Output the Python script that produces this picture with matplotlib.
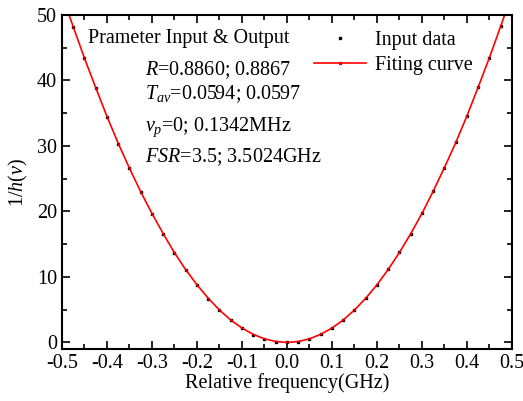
import matplotlib
matplotlib.use("Agg")
import matplotlib.pyplot as plt
from matplotlib.ticker import MultipleLocator
from matplotlib.lines import Line2D

# Fuente tipo Times y texto matemático en cursiva
plt.rcParams['font.family'] = 'Liberation Serif'
plt.rcParams['mathtext.fontset'] = 'custom'
plt.rcParams['mathtext.rm'] = 'Liberation Serif'
plt.rcParams['mathtext.it'] = 'Liberation Serif:italic'
plt.rcParams['axes.unicode_minus'] = False

# Datos
freq = [-0.5, -0.475, -0.45, -0.425, -0.4, -0.375, -0.35, -0.325, -0.3, -0.275,
        -0.25, -0.225, -0.2, -0.175, -0.15, -0.125, -0.1, -0.075, -0.05, -0.025,
        0.0, 0.025, 0.05, 0.075, 0.1, 0.125, 0.15, 0.175, 0.2, 0.225,
        0.25, 0.275, 0.3, 0.325, 0.35, 0.375, 0.4, 0.425, 0.45, 0.475, 0.5]
inv_h = [53.1, 48.2, 43.4, 38.9, 34.4, 30.3, 26.6, 23.0, 19.6, 16.5,
         13.7, 11.1, 8.8, 6.7, 4.9, 3.4, 2.2, 1.2, 0.55, 0.14,
         0.0, 0.14, 0.55, 1.24, 2.2, 3.45, 4.95, 6.75, 8.8, 11.15,
         13.75, 16.6, 19.7, 23.1, 26.7, 30.6, 34.6, 39.0, 43.5, 48.3, 53.2]
fit = [53.1, 48.2, 43.4, 38.9, 34.5, 30.4, 26.6, 23.0, 19.7, 16.6,
       13.7, 11.1, 8.8, 6.75, 4.95, 3.42, 2.2, 1.23, 0.55, 0.14,
       0.0, 0.14, 0.55, 1.24, 2.2, 3.43, 4.95, 6.75, 8.8, 11.15,
       13.75, 16.6, 19.7, 23.1, 26.7, 30.5, 34.6, 39.0, 43.5, 48.3, 53.2]

fs = 14.5

fig = plt.figure(figsize=(5.23, 4.01), dpi=100)
ax = fig.add_axes([0.1185, 0.1297, 0.8604, 0.8329])

ax.plot(freq, inv_h, ls='none', marker='s', ms=1.6, color='black', zorder=1)
ax.plot(freq, fit, color='red', lw=1.2, zorder=2)

ax.set_xlim(-0.5, 0.5)
ax.set_ylim(-1, 50)
ax.xaxis.set_minor_locator(MultipleLocator(0.05))
ax.yaxis.set_major_locator(MultipleLocator(10))
ax.yaxis.set_minor_locator(MultipleLocator(5))
ax.set_xticks([-0.5, -0.4, -0.3, -0.2, -0.1, 0.0, 0.1, 0.2, 0.3, 0.4, 0.5])
ax.set_xticklabels(['-0.5', '-0.4', '-0.3', '-0.2', '-0.1', '0.0',
                    '0.1', '0.2', '0.3', '0.4', '0.5'])
ax.tick_params(which='both', direction='in', top=True, right=True,
               labelsize=fs, width=1.2)
ax.tick_params(which='major', length=6)
ax.tick_params(which='minor', length=3.5)
for s in ax.spines.values():
    s.set_linewidth(1.5)

ax.set_xlabel('Relative frequency(GHz)', fontsize=fs, labelpad=0)
ax.set_ylabel(r'1/$h$($\nu$)', fontsize=fs, labelpad=5)

# Texto con los parámetros
ax.text(0.058, 0.931, 'Prameter Input & Output', transform=ax.transAxes,
        fontsize=fs, va='center')
ax.text(0.185, 0.835, r'$R$=0.8860; 0.8867', transform=ax.transAxes,
        fontsize=fs, va='center')
ax.text(0.185, 0.764, r'$T_{av}$=0.0594; 0.0597', transform=ax.transAxes,
        fontsize=fs, va='center')
ax.text(0.185, 0.664, r'$\nu_p$=0; 0.1342MHz', transform=ax.transAxes,
        fontsize=fs, va='center')
ax.text(0.185, 0.574, r'$FSR$=3.5; 3.5024GHz', transform=ax.transAxes,
        fontsize=fs, va='center')

# Leyenda
h_data = Line2D([], [], ls='none', marker='s', ms=2, color='black')
h_fit = Line2D([], [], color='red', lw=1.2, marker='s', ms=2)
ax.legend([h_data, h_fit], ['Input data', 'Fiting curve'], loc='upper left',
          bbox_to_anchor=(0.529, 0.995), frameon=False, fontsize=fs,
          handlelength=2.6, handletextpad=0.4, labelspacing=0.3,
          borderpad=0.2)

fig.savefig('out.png', dpi=100)
